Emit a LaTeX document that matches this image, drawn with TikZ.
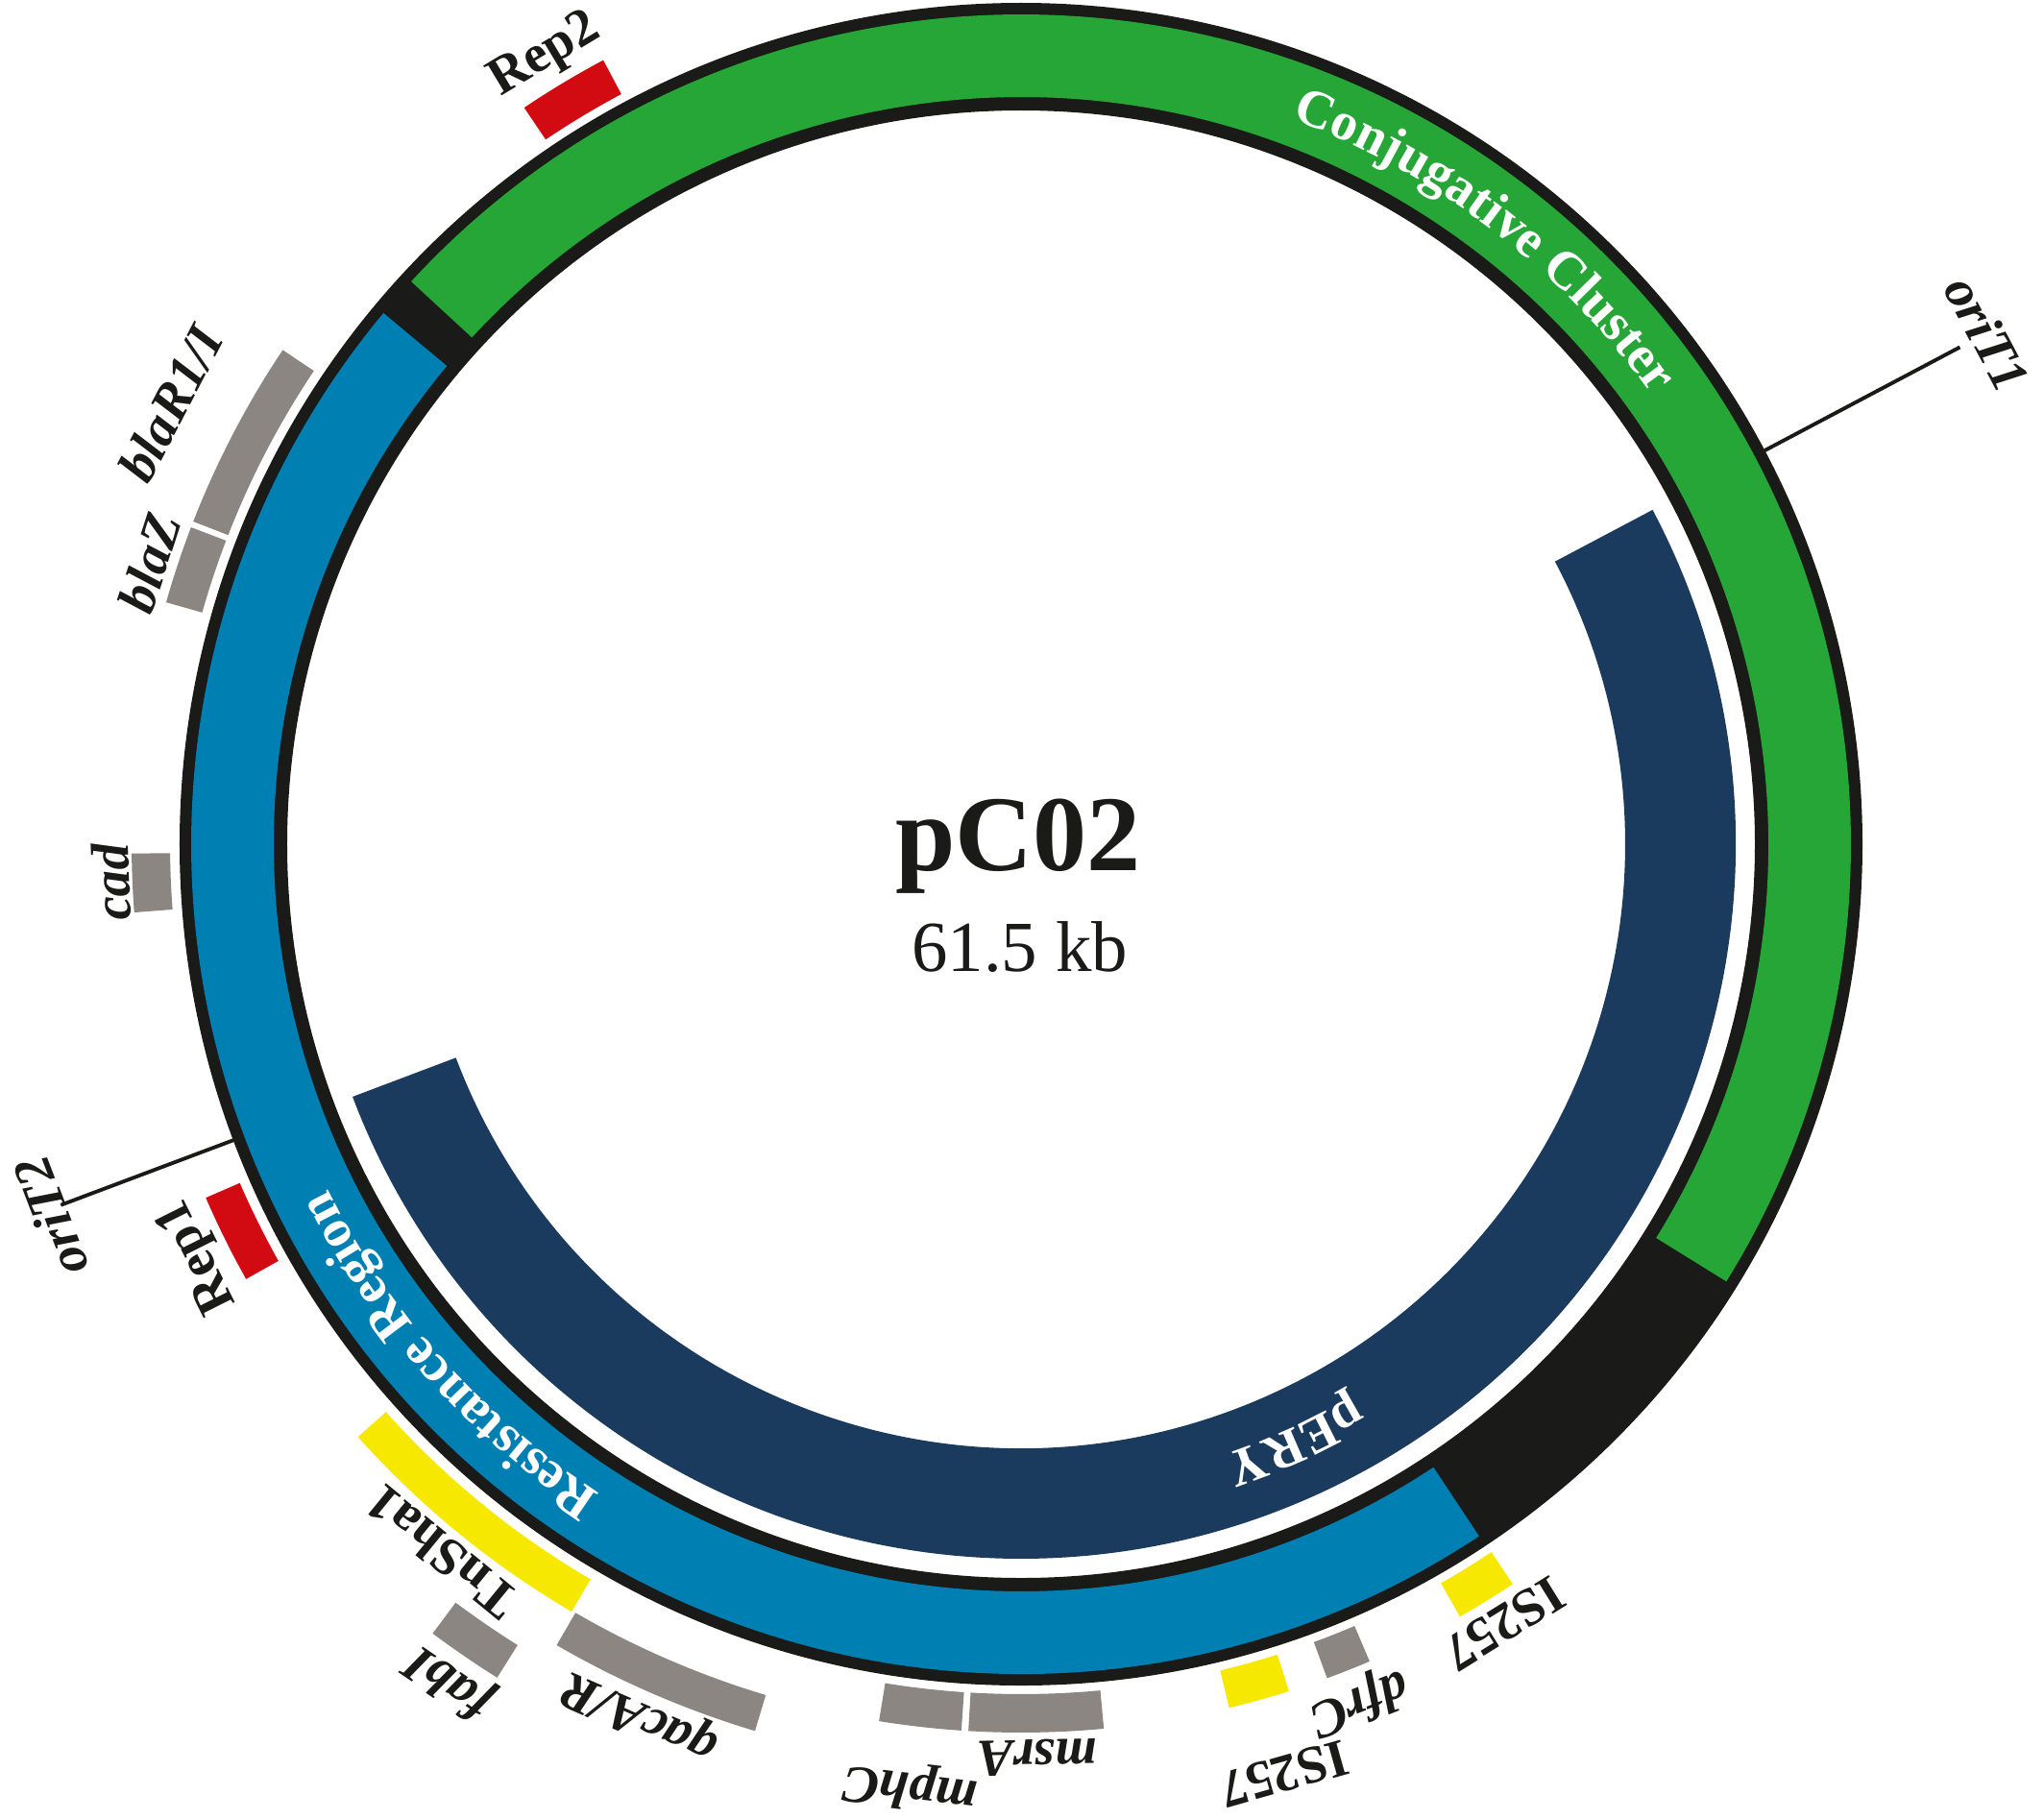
\documentclass[tikz,border=0pt]{standalone}
\usepackage{fontspec}
\setmainfont{Liberation Serif}
\usetikzlibrary{decorations.text}
\definecolor{cgreen}{RGB}{37,166,54}
\definecolor{cblue}{RGB}{0,127,178}
\definecolor{cnavy}{RGB}{27,59,94}
\definecolor{cblack}{RGB}{26,26,24}
\definecolor{cred}{RGB}{210,10,17}
\definecolor{cyellow}{RGB}{247,232,0}
\definecolor{cgrey}{RGB}{140,134,130}
\newcommand{\lblfont}{\fontsize{15.8}{19}\selectfont\bfseries}
\newcommand{\featarc}[5]{% colour, start angle, end angle, inner r, outer r
  \fill[#1] (#2:#4) arc[start angle=#2, end angle=#3, radius=#4] -- (#3:#5)
    arc[start angle=#3, end angle=#2, radius=#5] -- cycle;}
\newcommand{\featlabel}[5]{% name, angle, radius, style, text
  \node[#4, rotate={#2-90}] (#1) at (#2:#3) {#5};}
\begin{document}
\begin{tikzpicture}[
  lbl/.style={font=\lblfont, inner sep=0pt, text=cblack},
  lblit/.style={font=\lblfont\itshape, inner sep=0pt, text=cblack},
  oriline/.style={line width=1.1pt, draw=cblack},
  bandtext/.style={decorate, decoration={text along path, text align=center, text color=white, text={|\lblfont|#1}}},
]
\fill[white] (-10.63,-10.14) rectangle (10.65,8.79);
\useasboundingbox (-10.63,-10.14) rectangle (10.65,8.79);

% main ring
\fill[cblack, even odd rule] (0,0) circle (8.76) (0,0) circle (7.64);
\featarc{cgreen}{-31.8}{137.3}{7.78}{8.64}
\featarc{cblue}{140.2}{303.5}{7.78}{8.64}
% pERY
\featarc{cnavy}{-159.3}{27.9}{6.29}{7.44}

% band texts
\path[bandtext={Conjugative Cluster}] (85:8.06) arc[start angle=85, end angle=20, radius=8.06];
\path[bandtext={Resistance Region}] (255:8.06) arc[start angle=255, end angle=188.6, radius=8.06];
\path[bandtext={pERY}] (-45:6.70) arc[start angle=-45, end angle=-85.6, radius=6.70];

% features
\featarc{cred}{118.05}{124.0}{8.85}{9.25}
\featarc{cgrey}{146.2}{158.7}{8.86}{9.25}
\featarc{cgrey}{159.1}{164.2}{8.86}{9.25}
\featarc{cgrey}{180.6}{184.4}{8.86}{9.26}
\featarc{cred}{203.45}{209.3}{8.866}{9.252}
\featarc{cyellow}{221.8}{239.65}{8.87}{9.26}
\featarc{cgrey}{233.3}{237.85}{9.85}{10.25}
\featarc{cgrey}{239.9}{253.3}{9.25}{9.64}
\featarc{cgrey}{260.8}{266.15}{8.85}{9.25}
\featarc{cgrey}{266.6}{275.35}{8.85}{9.25}
\featarc{cyellow}{283.55}{287.55}{8.85}{9.25}
\featarc{cgrey}{290.15}{293.1}{8.85}{9.25}
\featarc{cyellow}{299.6}{303.6}{8.85}{9.25}

% oriT marks
\coordinate (oriTonein) at (27.9:8.76);
\coordinate (oriToneout) at (27.9:11.06);
\coordinate (oriTtwoin) at (200.6:8.76);
\coordinate (oriTtwoout) at (200.6:10.68);
\draw[oriline] (oriTonein) -- (oriToneout);
\draw[oriline] (oriTtwoin) -- (oriTtwoout);

% labels
\featlabel{lRep2}{121.1}{9.587}{lbl}{Rep2}
\featlabel{lblaR}{152.6}{9.97}{lblit}{blaR1/I}
\featlabel{lblaZ}{162.1}{9.535}{lblit}{blaZ}
\featlabel{lcad}{182.4}{9.48}{lblit}{cad}
\featlabel{loriT2}{201}{10.82}{lblit}{oriT2}
\featlabel{lRep1}{206.6}{9.578}{lbl}{Rep1}
\featlabel{lTn}{230.7}{9.528}{lbl}{TnSha1}
\featlabel{lfab}{235.7}{10.548}{lblit}{fabI}
\featlabel{lqac}{246.4}{9.90}{lblit}{qacA/R}
\featlabel{lmph}{263.3}{9.88}{lblit}{mphC}
\featlabel{lmsr}{271.0}{9.51}{lblit}{msrA}
\featlabel{lISa}{285.8}{10.06}{lbl}{IS257}
\featlabel{ldfr}{291.5}{9.59}{lblit}{dfrC}
\featlabel{lISb}{301.8}{9.546}{lbl}{IS257}
\featlabel{loriT1}{27.85}{11.38}{lblit}{oriT1}

% centre
\node[anchor=base, inner sep=0pt, font=\fontsize{31.9}{36}\selectfont\bfseries, text=cblack] (title) at (-0.03,-0.27) {pC02};
\node[anchor=base, inner sep=0pt, font=\fontsize{21.3}{25}\selectfont, text=cblack] (size) at (-0.013,-1.327) {61.5 kb};
\end{tikzpicture}
\end{document}
